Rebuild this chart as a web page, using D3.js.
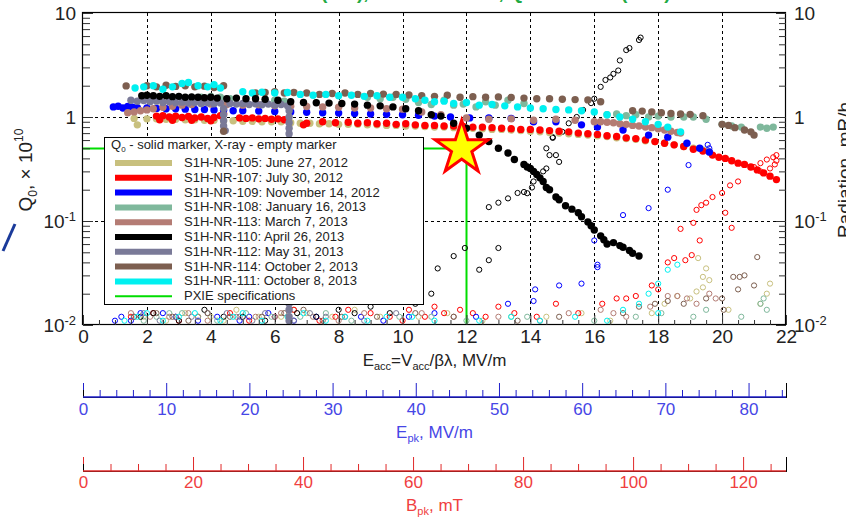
<!DOCTYPE html>
<html>
<head>
<meta charset="utf-8">
<script src="https://cdn.jsdelivr.net/npm/d3@7"></script>
<style>
  body { margin: 0; background: #ffffff; }
  svg { display: block; font-family: "Liberation Sans", Arial, Helvetica, sans-serif; }
</style>
</head>
<body>
<div class="chart"></div>
<script>
// Cavities, in legend order
const cavities = [
  "S1H-NR-105: June 27, 2012",
  "S1H-NR-107: July 30, 2012",
  "S1H-NR-109: November 14, 2012",
  "S1H-NR-108: January 16, 2013",
  "S1H-NR-113: March 7, 2013",
  "S1H-NR-110: April 26, 2013",
  "S1H-NR-112: May 31, 2013",
  "S1H-NR-114: October 2, 2013",
  "S1H-NR-111: October 8, 2013"
];
const cavityColors = ["#c8c07e", "#ff0000", "#0000ff", "#7fb89c", "#b47c74", "#000000", "#7a7a98", "#7d5f50", "#00f0f0"];

// Q0 (x 1e10) vs Eacc, MV/m  -- solid markers
const q105 = [[1.6,0.97],[1.7,0.84],[2.0,0.96],[2.3,0.96],[2.6,0.95],[2.9,0.95],[3.2,0.94],[3.5,0.94],[3.8,0.93],[4.1,0.93],[4.4,0.92],[4.7,0.92],[5.0,0.91],[5.3,0.91],[5.6,0.9],[5.9,0.9],[6.2,0.9],[6.5,0.88],[6.8,0.87],[7.1,0.87],[7.4,0.86],[7.7,0.86],[8.0,0.85],[8.3,0.85],[8.6,0.85],[8.9,0.84],[9.2,0.84],[9.5,0.83],[9.8,0.83],[10.1,0.82],[10.4,0.82],[10.7,0.81],[11.0,0.8],[11.3,0.8],[11.6,0.79],[11.9,0.78],[12.2,0.78],[12.5,0.77],[12.8,0.76],[13.1,0.76],[13.4,0.75],[13.7,0.74],[14.0,0.73],[14.3,0.72],[14.6,0.71],[14.9,0.7],[15.2,0.69],[15.5,0.68],[15.8,0.67],[16.1,0.66],[16.4,0.65],[16.7,0.63],[17.0,0.62],[17.3,0.61],[17.6,0.59],[17.9,0.58],[18.2,0.56],[18.5,0.54],[18.8,0.52],[19.1,0.5],[19.4,0.48],[19.6,0.46]];
const q107 = [[2.3,1.02],[2.4,0.94],[2.5,1.03],[2.7,1.0],[2.8,0.93],[2.9,1.02],[3.1,0.99],[3.3,1.01],[3.4,0.93],[3.5,0.98],[3.7,1.0],[3.9,0.97],[4.0,0.92],[4.1,0.99],[4.3,1.03],[4.4,1.07],[4.9,0.98],[5.1,0.97],[5.3,0.98],[5.5,0.96],[5.7,0.97],[5.9,0.95],[6.1,0.96],[6.3,0.94],[6.9,0.84],[7.0,0.87],[7.5,0.9],[7.9,0.88],[8.3,0.89],[8.6,0.87],[8.9,0.88],[9.2,0.86],[9.5,0.87],[9.8,0.85],[10.1,0.86],[10.4,0.84],[10.7,0.83],[11.0,0.83],[11.3,0.82],[11.6,0.82],[11.9,0.81],[12.2,0.8],[12.5,0.8],[12.8,0.79],[13.1,0.78],[13.4,0.77],[13.7,0.76],[14.0,0.76],[14.3,0.75],[14.6,0.74],[14.9,0.73],[15.2,0.72],[15.5,0.7],[15.8,0.69],[16.1,0.68],[16.4,0.66],[16.7,0.65],[17.0,0.63],[17.3,0.62],[17.6,0.6],[17.9,0.58],[18.2,0.56],[18.5,0.54],[18.8,0.52],[19.1,0.49],[19.4,0.47],[19.7,0.43],[19.9,0.41],[20.1,0.4],[20.3,0.38],[20.5,0.36],[20.7,0.35],[20.9,0.33],[21.1,0.31],[21.3,0.29],[21.5,0.27],[21.7,0.25]];
const q109 = [[0.95,1.25],[1.1,1.27],[1.25,1.22],[1.4,1.26],[1.55,1.24],[1.7,1.23],[2.0,1.22],[2.3,1.21],[2.6,1.2],[2.9,1.2],[3.2,1.19],[3.5,1.18],[3.8,1.18],[4.1,1.17],[4.4,1.16],[4.7,1.15],[5.0,1.15],[5.5,1.14],[6.0,1.13],[6.5,1.12],[7.0,1.11],[7.5,1.1],[8.0,1.09],[8.5,1.08],[9.0,1.07],[9.5,1.06],[10.0,1.05],[10.5,1.04],[11.0,1.02],[11.5,1.0],[12.1,0.98],[12.7,0.98],[13.4,0.97],[14.1,0.9],[14.8,0.9],[15.6,0.84],[16.1,0.8],[16.9,0.75],[17.7,0.67],[18.3,0.64],[18.9,0.56],[19.3,0.5],[19.6,0.46]];
const q108 = [[3.7,1.55],[4.0,1.58],[4.3,1.55],[4.6,1.5],[6.0,1.45],[6.3,1.42],[8.9,1.55],[9.3,1.5],[9.7,1.55],[10.1,1.48],[10.5,1.38],[10.9,1.32],[11.3,1.45],[11.6,1.3],[11.9,1.33],[12.3,1.25],[12.6,1.4],[12.9,1.3],[13.3,1.45],[13.8,1.35],[16.4,1.05],[16.7,1.07],[17.0,1.03],[17.3,1.05],[17.7,1.0],[18.0,1.02],[18.4,1.0],[18.8,1.0],[19.1,1.0],[19.5,0.95],[20.0,0.85],[20.3,0.82],[20.6,0.8],[21.2,0.8],[21.4,0.78],[21.6,0.8]];
const q113 = [[1.4,1.1],[1.6,1.12],[1.8,1.15],[2.0,1.17],[2.2,1.2],[2.5,1.24],[2.8,1.27],[3.1,1.3],[3.4,1.32],[3.7,1.35],[4.0,1.33],[4.5,1.32],[5.0,1.3],[5.5,1.31],[6.0,1.28],[6.5,1.27],[7.0,1.26],[7.5,1.25],[8.0,1.24],[8.5,1.22],[9.0,1.22],[9.5,1.2],[10.0,1.19],[10.6,1.12],[11.2,1.05],[12.0,0.98],[12.7,0.95],[13.4,0.96],[14.1,0.93],[14.8,0.95],[15.4,0.93],[16.0,0.9],[16.2,0.9],[16.4,0.89],[16.6,0.88],[16.8,0.86],[17.0,0.85],[17.2,0.83],[17.4,0.82],[17.6,0.8],[17.8,0.79],[18.0,0.77],[18.2,0.75],[18.4,0.73],[18.6,0.71],[18.7,0.7]];
const q110 = [[1.84,1.6],[2.0,1.62],[2.2,1.6],[2.4,1.58],[2.6,1.6],[2.8,1.57],[3.0,1.58],[3.2,1.55],[3.4,1.56],[3.6,1.55],[3.8,1.53],[4.0,1.55],[4.2,1.52],[4.5,1.5],[4.8,1.52],[5.1,1.5],[5.4,1.5],[5.7,1.48],[6.1,1.45],[6.5,1.4],[6.9,1.38],[7.3,1.37],[7.7,1.36],[8.1,1.35],[8.5,1.33],[8.9,1.3],[9.3,1.28],[9.7,1.25],[10.1,1.2],[10.5,1.15],[10.9,1.05],[11.2,1.02],[11.6,0.87],[12.0,0.78],[12.4,0.67],[12.7,0.58],[13.0,0.5],[13.3,0.45],[13.5,0.39],[13.8,0.35],[13.9,0.33],[14.0,0.32],[14.1,0.3],[14.2,0.28],[14.3,0.26],[14.4,0.24],[14.5,0.21],[14.6,0.2],[14.8,0.17],[14.9,0.16],[15.1,0.14],[15.3,0.13],[15.5,0.12],[15.6,0.11],[15.8,0.098],[15.9,0.09],[16.0,0.082],[16.2,0.072],[16.3,0.066],[16.4,0.06],[16.6,0.062],[16.8,0.058],[16.9,0.056],[17.1,0.052],[17.2,0.049],[17.4,0.046]];
const q112 = [[1.5,1.45],[1.7,1.42],[1.9,1.44],[2.1,1.4],[2.3,1.42],[2.5,1.38],[2.7,1.4],[2.9,1.37],[3.1,1.39],[3.3,1.36],[3.5,1.38],[3.7,1.35],[3.9,1.37],[4.1,1.34],[4.3,1.36],[4.4,1.2],[4.4,1.05],[4.4,0.92],[4.4,0.82],[4.45,0.74],[4.6,1.35],[4.8,1.33],[5.0,1.35],[5.2,1.32],[5.4,1.34],[5.6,1.31],[5.8,1.33],[6.0,1.3],[6.2,1.32],[6.4,1.28],[6.45,1.15],[6.45,1.0],[6.45,0.88],[6.45,0.78],[6.45,0.69],[6.45,0.61],[6.45,0.55],[6.45,0.45],[6.45,0.35],[6.45,0.25],[6.45,0.18],[6.45,0.12],[6.45,0.08],[6.45,0.05],[6.45,0.035],[6.45,0.025],[6.45,0.019],[6.45,0.016],[6.45,0.014],[6.45,0.012],[6.45,0.011]];
const q114 = [[1.35,1.99],[2.0,2.0],[2.3,1.95],[2.6,2.02],[2.9,1.97],[3.2,2.0],[3.5,1.95],[3.8,1.98],[4.1,1.92],[4.4,2.0],[4.4,0.73],[5.4,1.7],[5.7,1.72],[6.0,1.75],[6.3,1.7],[6.6,1.72],[7.0,1.7],[7.4,1.65],[7.8,1.68],[8.2,1.7],[8.6,1.65],[9.0,1.68],[9.4,1.66],[9.8,1.65],[10.2,1.63],[10.6,1.6],[11.0,1.58],[11.4,1.62],[11.8,1.55],[12.2,1.57],[12.6,1.55],[13.0,1.56],[13.4,1.54],[13.8,1.52],[14.2,1.5],[14.6,1.5],[15.0,1.48],[15.4,1.47],[15.8,1.46],[16.2,1.4],[17.2,1.15],[17.5,1.14],[17.8,1.12],[18.1,1.1],[18.4,1.08],[18.7,1.07],[19.0,1.06],[19.4,1.03],[20.0,0.85],[20.2,0.83],[20.4,0.79],[20.7,0.75],[20.9,0.72],[21.0,0.67]];
const q111 = [[1.63,1.9],[1.9,1.95],[2.2,2.0],[2.5,1.85],[2.8,1.95],[3.1,2.1],[3.3,2.15],[3.6,2.0],[3.9,1.95],[4.1,2.05],[4.3,1.9],[5.0,1.75],[5.3,1.7],[5.6,1.73],[6.0,1.7],[6.4,1.72],[6.8,1.65],[7.2,1.62],[7.6,1.65],[8.0,1.6],[8.4,1.62],[8.8,1.58],[9.2,1.6],[9.6,1.55],[10.0,1.55],[10.4,1.5],[10.7,1.45],[11.0,1.4],[11.3,1.42],[11.6,1.35],[12.0,1.38],[12.4,1.3],[12.8,1.32],[13.2,1.28],[13.6,1.25],[14.0,1.22],[14.4,1.2],[14.8,1.18],[15.2,1.17],[15.6,1.15],[16.0,1.12],[16.4,1.05],[16.8,1.0],[17.2,0.95],[17.6,0.9],[18.0,0.85],[18.3,0.8],[18.7,0.72]];

// X-ray radiation, mR/h vs Eacc  -- empty markers
const x105 = [[1.9,0.012],[2.6,0.011],[3.2,0.013],[3.6,0.012],[4.0,0.012],[4.4,0.011],[4.8,0.014],[5.5,0.012],[6.2,0.012],[6.6,0.014],[7.0,0.013],[7.8,0.012],[8.5,0.014],[9.3,0.012],[10.5,0.012],[11.4,0.013],[12.5,0.011],[13.4,0.012],[14.5,0.012],[15.6,0.013],[16.5,0.011],[17.8,0.013],[18.2,0.016],[18.6,0.019],[19.0,0.018],[19.2,0.021],[19.4,0.023],[19.4,0.029],[19.5,0.035],[19.25,0.044],[19.6,0.027],[20.2,0.014],[21.2,0.016],[21.4,0.02],[21.5,0.025]];
const x107 = [[1.5,0.012],[2.2,0.013],[3.0,0.011],[3.6,0.012],[4.6,0.013],[5.2,0.011],[6.0,0.012],[6.6,0.014],[7.4,0.011],[7.9,0.012],[8.3,0.014],[9.0,0.013],[9.6,0.012],[10.0,0.011],[10.2,0.014],[10.7,0.012],[11.0,0.015],[11.3,0.013],[11.8,0.014],[12.2,0.013],[12.6,0.012],[13.0,0.015],[13.5,0.013],[14.2,0.012],[14.8,0.016],[15.5,0.013],[16.25,0.016],[16.7,0.018],[17.0,0.018],[17.3,0.019],[17.8,0.024],[18.0,0.022],[18.3,0.04],[18.5,0.044],[18.85,0.042],[19.05,0.047],[18.7,0.084],[19.1,0.096],[19.3,0.065],[19.2,0.128],[19.35,0.142],[19.5,0.15],[19.7,0.17],[20.0,0.186],[20.1,0.12],[20.3,0.086],[20.25,0.22],[20.5,0.24],[21.0,0.33],[21.2,0.36],[21.4,0.39],[21.6,0.41],[21.7,0.43],[21.7,0.38],[21.65,0.35],[21.5,0.32],[21.2,0.3]];
const x109 = [[1.0,0.011],[1.2,0.012],[1.5,0.011],[1.8,0.013],[2.5,0.013],[2.9,0.012],[3.6,0.011],[4.2,0.012],[4.9,0.011],[5.2,0.012],[5.8,0.013],[6.6,0.011],[7.3,0.012],[8.7,0.012],[9.4,0.011],[10.2,0.012],[11.0,0.013],[12.3,0.012],[13.3,0.016],[14.1,0.017],[14.15,0.022],[14.9,0.024],[15.6,0.025],[16.0,0.065],[16.1,0.038],[16.1,0.036],[16.9,0.114],[17.7,0.133],[18.3,0.2],[18.95,0.345],[19.55,0.54],[19.6,0.5]];
const x108 = [[1.9,0.011],[2.3,0.012],[2.7,0.013],[3.1,0.013],[3.6,0.012],[4.2,0.011],[5.1,0.013],[5.9,0.012],[6.8,0.012],[7.6,0.013],[8.4,0.011],[9.9,0.012],[10.9,0.012],[12.0,0.011],[13.9,0.012],[16.0,0.011],[17.3,0.012],[18.1,0.013],[19.1,0.012],[19.5,0.014],[20.6,0.012],[21.2,0.016],[21.4,0.014],[21.3,0.018]];
const x113 = [[1.5,0.013],[2.1,0.012],[2.7,0.012],[3.3,0.013],[3.9,0.011],[4.8,0.012],[5.4,0.012],[6.2,0.013],[7.2,0.012],[8.0,0.011],[8.8,0.013],[10.6,0.013],[11.6,0.012],[13.0,0.012],[14.3,0.011],[15.2,0.013],[16.2,0.014],[16.6,0.013],[17.0,0.012],[17.75,0.015],[18.3,0.019],[18.6,0.019],[18.9,0.018],[19.2,0.016],[19.6,0.02],[19.8,0.018]];
const x110 = [[1.8,0.012],[2.2,0.013],[3.0,0.011],[3.8,0.014],[4.4,0.012],[5.0,0.012],[5.7,0.011],[6.7,0.013],[7.3,0.012],[8.0,0.014],[8.5,0.013],[9.0,0.015],[9.6,0.013],[10.4,0.016],[10.9,0.02],[11.1,0.035],[11.6,0.046],[11.95,0.055],[12.4,0.034],[12.7,0.042],[13.0,0.055],[12.7,0.136],[13.0,0.15],[13.3,0.165],[13.6,0.186],[13.8,0.19],[13.9,0.185],[14.05,0.21],[14.1,0.24],[14.4,0.3],[14.5,0.32],[14.6,0.43],[14.8,0.43],[14.9,0.37],[14.5,0.5],[14.7,0.63],[14.7,0.64],[15.0,0.72],[15.2,0.87],[15.45,1.0],[15.65,1.17],[15.9,1.36],[16.0,1.5],[16.2,1.95],[16.35,2.27],[16.5,2.4],[16.6,2.6],[16.75,2.8],[16.8,3.5],[17.0,4.4],[17.1,4.6],[17.4,5.5],[17.45,5.8]];
const x112 = [[1.6,0.012],[1.9,0.013],[2.4,0.011],[2.9,0.012],[3.4,0.012],[3.9,0.013],[4.5,0.013],[4.9,0.012],[5.3,0.011],[5.7,0.013],[6.0,0.012],[6.6,0.011],[7.1,0.013],[7.6,0.012],[8.2,0.012],[8.8,0.011],[9.8,0.013]];
const x114 = [[1.6,0.012],[2.3,0.013],[2.8,0.012],[3.3,0.011],[3.9,0.013],[4.6,0.012],[5.6,0.012],[6.3,0.013],[6.9,0.014],[7.5,0.011],[8.1,0.012],[9.2,0.012],[10.4,0.013],[11.6,0.012],[13.6,0.011],[14.9,0.012],[16.9,0.013],[17.4,0.015],[17.9,0.016],[18.3,0.017],[18.8,0.016],[19.5,0.018],[20.0,0.018],[20.05,0.014],[20.35,0.029],[20.55,0.029],[20.7,0.03],[20.5,0.022],[21.0,0.024],[21.1,0.045]];
const x111 = [[1.3,0.011],[1.7,0.012],[2.0,0.013],[2.5,0.011],[3.0,0.012],[3.5,0.013],[4.3,0.011],[4.7,0.012],[5.0,0.013],[5.6,0.011],[6.4,0.012],[6.9,0.013],[7.6,0.011],[8.2,0.012],[8.9,0.011],[9.5,0.012],[10.3,0.012],[11.0,0.011],[12.4,0.011],[13.4,0.012],[14.3,0.011],[15.4,0.012],[16.4,0.011],[16.9,0.014],[17.4,0.016],[17.7,0.02],[18.0,0.025],[18.3,0.034],[18.6,0.038],[18.0,0.013]];

const q0Series = [q105, q107, q109, q108, q113, q110, q112, q114, q111];
const xraySeries = [x105, x107, x109, x108, x113, x110, x112, x114, x111];
const solidOrder = [0, 1, 2, 3, 4, 6, 7, 8, 5];

// PXIE specification: Eacc = 12 MV/m, Q0 = 0.5e10
const pxieSpec = [12, 0.5];
const pxieStar = [11.85, 0.5];

// Tick labels
const eaccTicks = [0, 2, 4, 6, 8, 10, 12, 14, 16, 18, 20, 22];
const decades = [0.01, 0.1, 1, 10];
const epkTicks = [0, 10, 20, 30, 40, 50, 60, 70, 80];
const bpkTicks = [0, 20, 40, 60, 80, 100, 120];

const width = 846, height = 519;
const margin = { top: 13, right: 60, bottom: 194, left: 83 };
const legendWidth = 319;

const svg = d3.select(".chart")
  .append("svg")
  .attr("width", width)
  .attr("height", height);

const x = d3.scaleLinear().domain([0, 22]).range([margin.left, width - margin.right]);
const yQ = d3.scaleLog().domain([0.01, 10]).range([height - margin.bottom, margin.top]);
const yR = d3.scaleLog().domain([0.01, 10]).range(yQ.range());
const epk = d3.scaleLinear().domain([0, 84.5]).range(x.range());
const bpk = d3.scaleLinear().domain([0, 127.8]).range(x.range());

const crisp = v => Math.round(v) + 0.5;
const x0 = x.range()[0], x1 = x.range()[1];
const yBot = yQ.range()[0], yTop = yQ.range()[1];

// Cut-off title at the very top
svg.append("text")
  .attr("x", (x0 + x1) / 2)
  .attr("y", -1)
  .attr("text-anchor", "middle")
  .attr("fill", "#22aa44")
  .attr("font-size", 19)
  .attr("font-weight", "bold")
  .text("Vertical tests (2 K), SSR1 cavities, Q0 vs. Eacc (VTS)");

// Dashed grid
const grid = svg.append("g").attr("class", "grid")
  .attr("stroke", "#000").attr("stroke-width", 1).attr("stroke-dasharray", "3,3");
grid.selectAll("line.v")
  .data(eaccTicks.slice(1, -1))
  .enter()
  .append("line")
  .attr("x1", d => crisp(x(d))).attr("x2", d => crisp(x(d)))
  .attr("y1", yTop).attr("y2", yBot);
grid.selectAll("line.h")
  .data(decades.slice(1, -1))
  .enter()
  .append("line")
  .attr("x1", x0).attr("x2", x1)
  .attr("y1", d => crisp(yQ(d))).attr("y2", d => crisp(yQ(d)));

// PXIE specification lines
svg.append("path")
  .attr("d", `M${x(0)},${crisp(yQ(pxieSpec[1]))}H${crisp(x(pxieSpec[0]))}V${yQ(0.01)}`)
  .attr("fill", "none")
  .attr("stroke", "#00dd00")
  .attr("stroke-width", 2);

// X-ray, empty markers
const xray = svg.append("g").attr("class", "xray");
xraySeries.forEach((s, i) => {
  xray.selectAll(`circle.x${i}`)
    .data(s)
    .enter()
    .append("circle")
    .attr("class", `x${i}`)
    .attr("cx", d => x(d[0]))
    .attr("cy", d => yR(d[1]))
    .attr("r", 2.6)
    .attr("fill", "none")
    .attr("stroke", cavityColors[i])
    .attr("stroke-width", 1);
});

// Q0, solid markers
const q0 = svg.append("g").attr("class", "q0");
solidOrder.forEach(i => {
  q0.selectAll(`circle.q${i}`)
    .data(q0Series[i])
    .enter()
    .append("circle")
    .attr("class", `q${i}`)
    .attr("cx", d => x(d[0]))
    .attr("cy", d => yQ(d[1]))
    .attr("r", 3.7)
    .attr("fill", cavityColors[i]);
});

// Legend
const lx = 104, ly = 137, rowH = 14.8;
const legend = svg.append("g").attr("class", "legend").attr("font-size", 13).attr("fill", "#222");
legend.append("rect")
  .attr("x", lx + 0.5).attr("y", ly + 0.5)
  .attr("width", legendWidth).attr("height", 167)
  .attr("fill", "#fff").attr("stroke", "#000").attr("stroke-width", 1);
const head = legend.append("text").attr("x", lx + 7).attr("y", ly + 12);
head.append("tspan").text("Q");
head.append("tspan").attr("font-size", 8).attr("dy", 3).text("0");
head.append("tspan").attr("dy", -3).text(" - solid marker, X-ray - empty marker");

const rows = legend.selectAll("g.row")
  .data(cavities.concat(["PXIE specifications"]))
  .enter()
  .append("g")
  .attr("class", "row")
  .attr("transform", (d, i) => `translate(${lx}, ${ly + 30 + i * rowH})`);
rows.append("line")
  .attr("x1", 11).attr("x2", 68)
  .attr("y1", -4).attr("y2", -4)
  .attr("stroke", (d, i) => i < cavities.length ? cavityColors[i] : "#00dd00")
  .attr("stroke-width", (d, i) => i < cavities.length ? 6 : 2);
rows.append("text")
  .attr("x", 80)
  .attr("y", 0)
  .text(d => d);

// Star at the PXIE point
svg.append("path")
  .attr("d", d3.symbol(d3.symbolStar).size(880)())
  .attr("transform", `translate(${x(pxieStar[0])}, ${yQ(pxieStar[1])})`)
  .attr("fill", "#ffff00")
  .attr("stroke", "#ff0000")
  .attr("stroke-width", 3)
  .attr("stroke-linejoin", "miter");

// Frame
svg.append("rect")
  .attr("x", crisp(x0) - 1).attr("y", crisp(yTop) - 1)
  .attr("width", Math.round(x1 - x0)).attr("height", Math.round(yBot - yTop))
  .attr("fill", "none").attr("stroke", "#000").attr("stroke-width", 1.2);

// Superscript decade labels
function decadeLabel(d) {
  const el = d3.select(this);
  const e = Math.round(Math.log10(d));
  el.text(null);
  if (e === 0) { el.text("1"); return; }
  el.append("tspan").text("10");
  if (e !== 1) el.append("tspan").attr("dy", "-0.5em").attr("font-size", "0.68em").text(e);
}

function minorLog(s) {
  return s.ticks().filter(v => decades.indexOf(v) < 0 && v < 10);
}

// Left axis
const left = svg.append("g")
  .attr("transform", `translate(${x0}, 0)`)
  .call(d3.axisLeft(yQ).tickValues(decades).tickSize(-10).tickPadding(7));
left.selectAll(".tick text").attr("font-size", 19).attr("fill", "#222").each(decadeLabel);
left.append("g").call(d3.axisLeft(yQ).tickValues(minorLog(yQ)).tickSize(-7).tickFormat(""));

// Right axis
const right = svg.append("g")
  .attr("transform", `translate(${x1}, 0)`)
  .call(d3.axisRight(yR).tickValues(decades).tickSize(-10).tickPadding(8));
right.selectAll(".tick text").attr("font-size", 19).attr("fill", "#222").each(decadeLabel);
right.append("g").call(d3.axisRight(yR).tickValues(minorLog(yR)).tickSize(-7).tickFormat(""));

// Bottom axis
const bottom = svg.append("g")
  .attr("transform", `translate(0, ${yBot})`)
  .call(d3.axisBottom(x).tickValues(eaccTicks).tickSize(-10).tickPadding(5));
bottom.selectAll(".tick text").attr("font-size", 19).attr("fill", "#222");
bottom.append("g").call(d3.axisBottom(x).tickValues(d3.range(0.5, 22, 0.5).filter(v => v % 2)).tickSize(-5).tickFormat(""));

svg.selectAll(".domain").remove();
svg.selectAll(".tick line").attr("stroke", "#333");

// Axis titles
const xTitle = svg.append("text")
  .attr("x", (x0 + x1) / 2).attr("y", 366)
  .attr("text-anchor", "middle").attr("font-size", 17).attr("fill", "#222");
xTitle.append("tspan").text("E");
xTitle.append("tspan").attr("font-size", 11).attr("dy", 4).text("acc");
xTitle.append("tspan").attr("dy", -4).text("=V");
xTitle.append("tspan").attr("font-size", 11).attr("dy", 4).text("acc");
xTitle.append("tspan").attr("dy", -4).text("/βλ, MV/m");

const qTitle = svg.append("text")
  .attr("transform", "translate(32, 170) rotate(-90)")
  .attr("text-anchor", "middle").attr("font-size", 19).attr("fill", "#222");
qTitle.append("tspan").text("Q");
qTitle.append("tspan").attr("font-size", 12).attr("dy", 5).text("0");
qTitle.append("tspan").attr("dy", -5).text(", × 10");
qTitle.append("tspan").attr("font-size", 12).attr("dy", -9).text("10");

svg.append("text")
  .attr("transform", "translate(851, 170) rotate(-90)")
  .attr("text-anchor", "middle").attr("font-size", 19).attr("fill", "#222")
  .text("Radiation, mR/h");

// Slide decoration at the left edge
svg.append("line")
  .attr("x1", 15).attr("y1", 224).attr("x2", 3).attr("y2", 251)
  .attr("stroke", "#1a3a9a").attr("stroke-width", 3);

// Epk axis
const epkAxis = svg.append("g")
  .attr("transform", "translate(0, 397)")
  .call(d3.axisBottom(epk).tickValues(epkTicks).tickSize(-14).tickPadding(6));
epkAxis.selectAll(".tick text").attr("font-size", 17).attr("fill", "#4646e6");
epkAxis.append("g").call(d3.axisBottom(epk).tickValues(d3.range(2, 84.5, 2).filter(v => v % 10)).tickSize(-7).tickFormat(""));
epkAxis.selectAll(".tick line").attr("stroke", "#2020cc");
epkAxis.append("line").attr("x1", x0).attr("x2", x1).attr("stroke", "#2020cc").attr("stroke-width", 1.3);
const epkTitle = svg.append("text")
  .attr("x", (x0 + x1) / 2).attr("y", 438)
  .attr("text-anchor", "middle").attr("font-size", 17).attr("fill", "#4646e6");
epkTitle.append("tspan").text("E");
epkTitle.append("tspan").attr("font-size", 11).attr("dy", 4).text("pk");
epkTitle.append("tspan").attr("dy", -4).text(", MV/m");

// Bpk axis
const bpkAxis = svg.append("g")
  .attr("transform", "translate(0, 471)")
  .call(d3.axisBottom(bpk).tickValues(bpkTicks).tickSize(-14).tickPadding(5));
bpkAxis.selectAll(".tick text").attr("font-size", 17).attr("fill", "#f04040");
bpkAxis.append("g").call(d3.axisBottom(bpk).tickValues(d3.range(5, 127.8, 5).filter(v => v % 20)).tickSize(-7).tickFormat(""));
bpkAxis.selectAll(".tick line").attr("stroke", "#e02a2a");
bpkAxis.append("line").attr("x1", x0).attr("x2", x1).attr("stroke", "#e02a2a").attr("stroke-width", 1.3);
const bpkTitle = svg.append("text")
  .attr("x", (x0 + x1) / 2).attr("y", 511)
  .attr("text-anchor", "middle").attr("font-size", 17).attr("fill", "#f04040");
bpkTitle.append("tspan").text("B");
bpkTitle.append("tspan").attr("font-size", 11).attr("dy", 4).text("pk");
bpkTitle.append("tspan").attr("dy", -4).text(", mT");
</script>
</body>
</html>
